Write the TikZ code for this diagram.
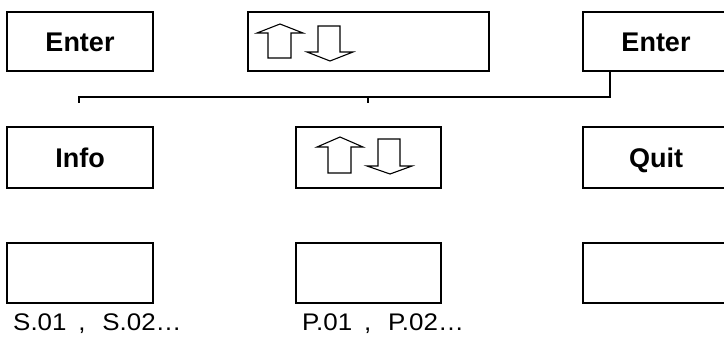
\documentclass[tikz,border=0pt]{standalone}
\usepackage{fontspec}
\setmainfont{Liberation Sans}
\begin{document}
\begin{tikzpicture}[x=1pt,y=-1pt,
  box/.style={draw=black,line width=2.6pt,inner sep=0pt,minimum width=#1},
  box/.default=146pt,
  key/.style={font=\fontsize{27}{30}\selectfont\bfseries,text height=20pt,text depth=0pt},
  code/.style={font=\fontsize{24}{28}\selectfont,inner sep=0pt,anchor=base west,xscale=1.08},
  conn/.style={line width=2pt},
  blk/.style={draw=black,line width=1.1pt,line join=miter}]
\useasboundingbox (0,0) rectangle (724,349);
\begin{scope}
\clip (0,0) rectangle (724,349);
% row 1
\node[box,minimum height=59pt,key] (e1) at (80,41.5) {Enter};
\node[box=241pt,minimum height=59pt] (ud1) at (368.5,41.5) {};
\node[box,minimum height=59pt,key] (e2) at (656,41.5) {Enter};
% row 2
\node[box,minimum height=61pt,key] (info) at (80,157.5) {Info};
\node[box=145pt,minimum height=61pt] (ud2) at (368.5,157.5) {};
\node[box,minimum height=61pt,key] (quit) at (656,157.5) {Quit};
% row 3
\node[box,minimum height=60pt] (s) at (80,273) {};
\node[box=145pt,minimum height=60pt] (p) at (368.5,273) {};
\node[box,minimum height=60pt] (q) at (656,273) {};
\end{scope}
% labels
\node[code] (sl) at (13,330) {S.01\hspace{11pt},\hspace{15.5pt}S.02…};
\node[code] (pl) at (302,330) {P.01\hspace{11pt},\hspace{15.5pt}P.02…};
% connector
\coordinate (jn) at (610,97);
\coordinate (lt) at (79,103);
\coordinate (mt) at (368,103);
\draw[conn] (e2.south -| jn) -- (jn) -- (jn -| lt) -- (lt);
\draw[conn] (mt |- jn) -- (mt);
% block arrows in top middle box
\draw[blk] (268,58) -- (268,33) -- (257,33) -- (280,24) -- (303,33) -- (291,33) -- (291,58) -- cycle;
\draw[blk] (318,26) -- (318,52) -- (307,52) -- (330,61) -- (353,52) -- (340,52) -- (340,26) -- cycle;
% block arrows in middle box
\draw[blk] (328,173) -- (328,147) -- (317,147) -- (340,137) -- (363,147) -- (351,147) -- (351,173) -- cycle;
\draw[blk] (378,139) -- (378,166) -- (367,166) -- (390,174) -- (412,166) -- (400,166) -- (400,139) -- cycle;
\end{tikzpicture}
\end{document}
